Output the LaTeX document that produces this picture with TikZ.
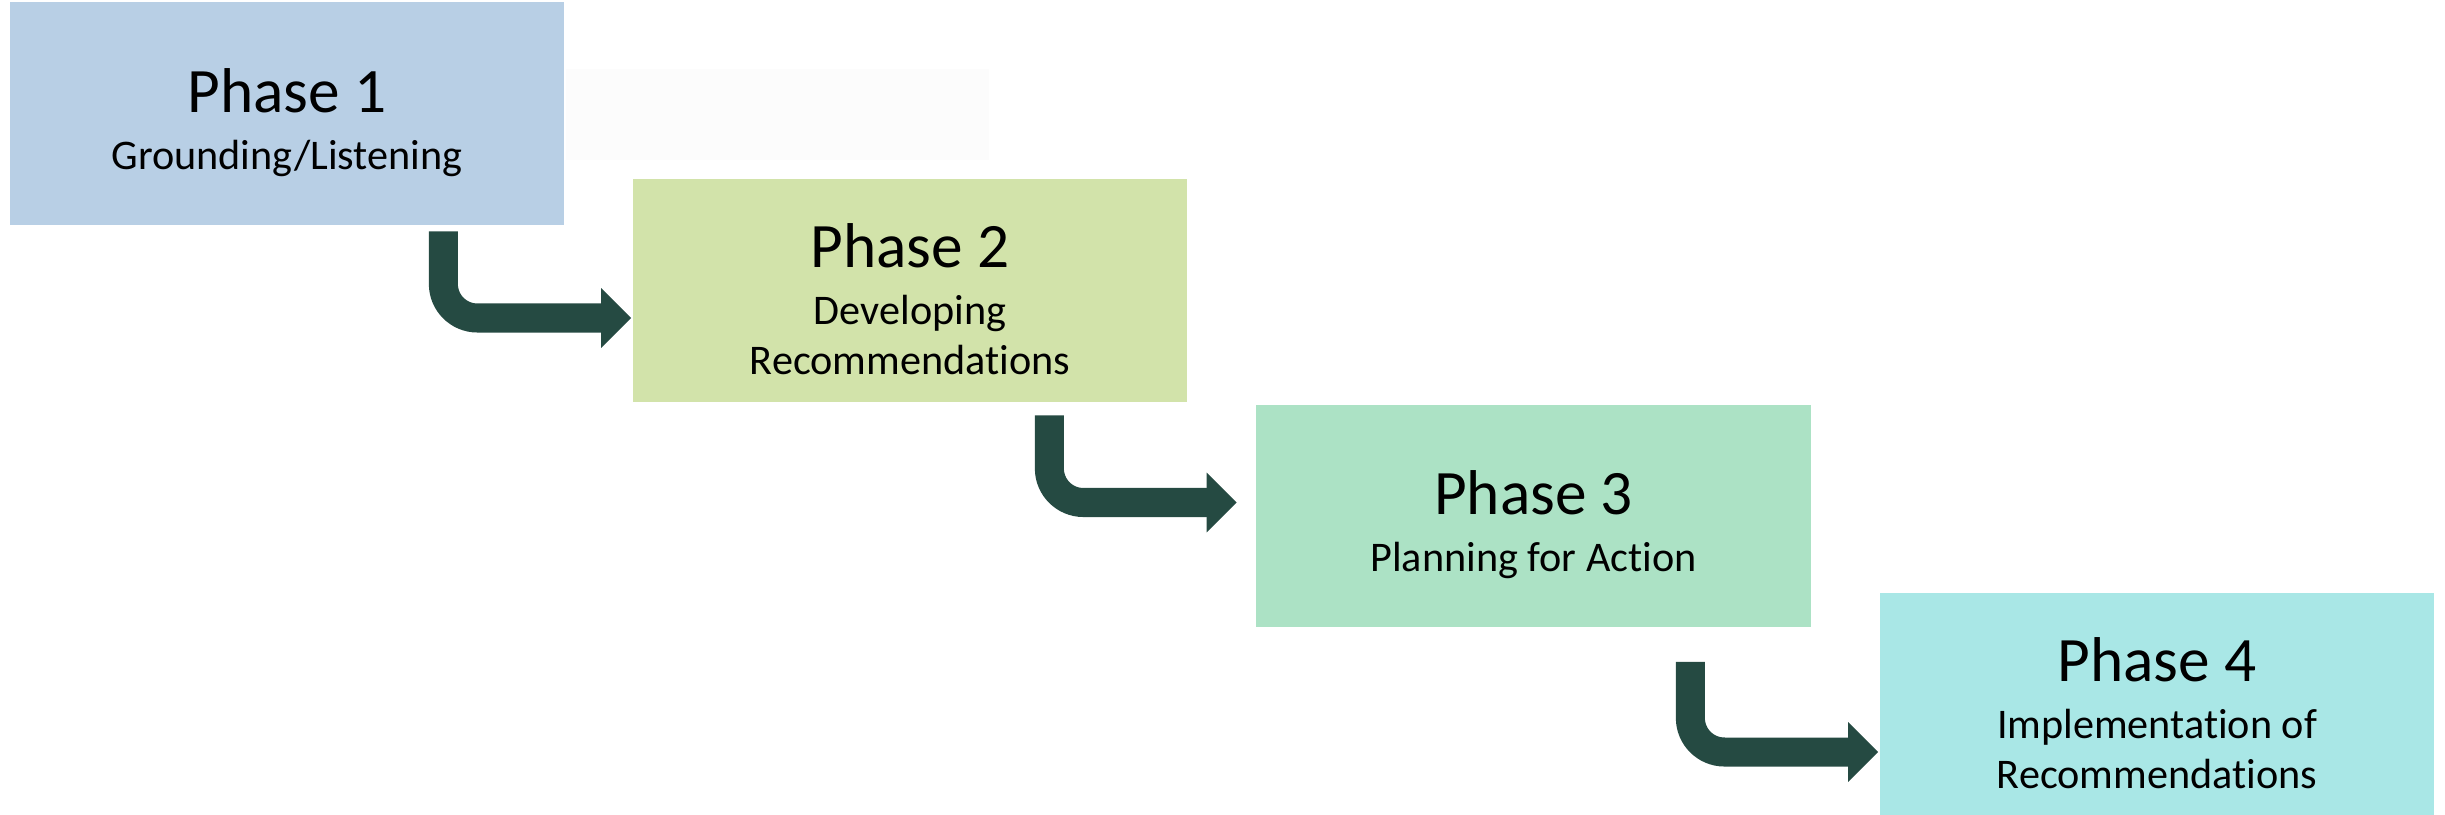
\documentclass[tikz,border=0pt]{standalone}
\usepackage{fontspec}
\setmainfont{Carlito}[Ligatures=NoCommon]
\usetikzlibrary{arrows.meta, calc, positioning}
\definecolor{phaseA}{RGB}{184,207,229}
\definecolor{phaseB}{RGB}{210,227,170}
\definecolor{phaseC}{RGB}{172,226,197}
\definecolor{phaseD}{RGB}{169,231,230}
\definecolor{arrowgreen}{RGB}{37,74,66}
\tikzset{
    x=0.01cm, y=-0.01cm,% one unit is one pixel of the picture, y runs downwards
    phase/.style = {rectangle, minimum width=5.54cm, minimum height=2.22cm, inner sep=0pt, align=center, font=\fontsize{12}{14.2}\selectfont},
    bentarrow/.style = {draw=arrowgreen, line width=0.29cm, rounded corners=0.34cm, -{Triangle[length=0.3cm, width=0.58cm]}} % the thick bent arrow between two phases
}
\newcommand{\phasename}[1]{{\fontsize{18}{22}\selectfont\rule{0pt}{17.5pt}#1}}
\begin{document}
\begin{tikzpicture}
\useasboundingbox (0,0) rectangle (2445,815);
\fill[black!1.2] (566,69) rectangle (989,160);

\node[phase, fill=phaseA] (p1) at (287,113.5) {\phasename{Phase 1}\\[2pt] Grounding/Listening};
\node[phase, fill=phaseB] (p2) at (910,290.5) {\phasename{Phase 2}\\[2pt] Developing\\ Recommendations};
\node[phase, fill=phaseC] (p3) at (1533.5,516) {\phasename{Phase 3}\\[2pt] Planning for Action};
\node[phase, fill=phaseD] (p4) at (2157,704) {\phasename{Phase 4}\\[2pt] Implementation of\\ Recommendations};

\draw[bentarrow] ($(p1.south east)+(-121.5,6)$) |- ($(p2.west)+(-1,27.5)$);
\draw[bentarrow] ($(p2.south east)+(-138.5,13)$) |- ($(p3.west)+(-19,-13.5)$);
\draw[bentarrow] ($(p3.south east)+(-121,34)$) |- ($(p4.west)+(-1,48)$);
\end{tikzpicture}
\end{document}
